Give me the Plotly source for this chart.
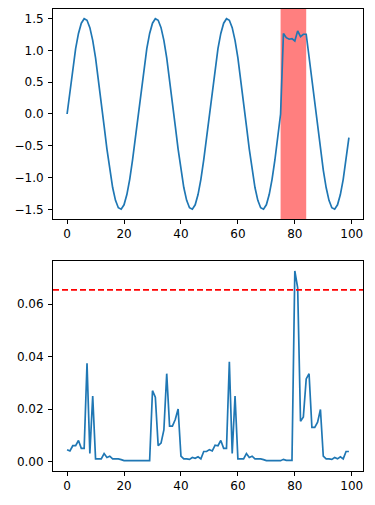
import plotly.graph_objects as go
from plotly.subplots import make_subplots

# time index
x_idx = list(range(100))

# signal with an injected anomaly (x = 76..84)
signal = [
    0.000, 0.373, 0.723, 1.027, 1.266, 1.427, 1.497, 1.473, 1.357, 1.156,
    0.882, 0.552, 0.188, -0.188, -0.552, -0.882, -1.156, -1.357, -1.473, -1.497,
    -1.427, -1.266, -1.027, -0.723, -0.373, 0.000, 0.373, 0.723, 1.027, 1.266,
    1.427, 1.497, 1.473, 1.357, 1.156, 0.882, 0.552, 0.188, -0.188, -0.552,
    -0.882, -1.156, -1.357, -1.473, -1.497, -1.427, -1.266, -1.027, -0.723, -0.373,
    0.000, 0.373, 0.723, 1.027, 1.266, 1.427, 1.497, 1.473, 1.357, 1.156,
    0.882, 0.552, 0.188, -0.188, -0.552, -0.882, -1.156, -1.357, -1.473, -1.497,
    -1.427, -1.266, -1.027, -0.723, -0.373, 0.000, 1.264, 1.200, 1.175, 1.185,
    1.148, 1.306, 1.216, 1.253, 1.253, 0.882, 0.552, 0.188, -0.188, -0.552,
    -0.882, -1.156, -1.357, -1.473, -1.497, -1.427, -1.266, -1.027, -0.723, -0.373,
]

# anomaly score
score = [
    0.0045, 0.0040, 0.0060, 0.0060, 0.0080, 0.0050, 0.0050, 0.0375, 0.0030, 0.0250,
    0.0010, 0.0010, 0.0010, 0.0030, 0.0015, 0.0020, 0.0010, 0.0010, 0.0010, 0.0007,
    0.0003, 0.0003, 0.0003, 0.0003, 0.0003, 0.0003, 0.0004, 0.0003, 0.0003, 0.0003,
    0.0270, 0.0245, 0.0060, 0.0070, 0.0120, 0.0335, 0.0135, 0.0135, 0.0160, 0.0200,
    0.0020, 0.0010, 0.0010, 0.0008, 0.0015, 0.0012, 0.0018, 0.0010, 0.0038, 0.0038,
    0.0045, 0.0040, 0.0062, 0.0060, 0.0080, 0.0050, 0.0050, 0.0380, 0.0030, 0.0250,
    0.0010, 0.0010, 0.0010, 0.0030, 0.0015, 0.0020, 0.0010, 0.0010, 0.0010, 0.0007,
    0.0003, 0.0003, 0.0003, 0.0003, 0.0003, 0.0003, 0.0008, 0.0004, 0.0004, 0.0004,
    0.0727, 0.0663, 0.0153, 0.0170, 0.0315, 0.0335, 0.0130, 0.0130, 0.0150, 0.0198,
    0.0020, 0.0010, 0.0010, 0.0008, 0.0015, 0.0010, 0.0018, 0.0010, 0.0038, 0.0038,
]

span_start, span_end = 75, 84
threshold = 0.0655

x_ticks = [0, 20, 40, 60, 80, 100]
top_ticks = [-1.5, -1.0, -0.5, 0.0, 0.5, 1.0, 1.5]
bottom_ticks = [0.0, 0.02, 0.04, 0.06]

BLUE = "#1f77b4"

fig = make_subplots(rows=2, cols=1, vertical_spacing=0.091)

fig.add_trace(go.Scatter(x=x_idx, y=signal, mode="lines",
                         line=dict(color=BLUE, width=1.7)), row=1, col=1)
fig.add_trace(go.Scatter(x=x_idx, y=score, mode="lines",
                         line=dict(color=BLUE, width=1.7)), row=2, col=1)

fig.add_shape(type="rect", xref="x", yref="y domain", x0=span_start, x1=span_end,
              y0=0, y1=1, fillcolor="rgba(255,0,0,0.5)", line_width=0, layer="below")
fig.add_shape(type="line", xref="x2 domain", yref="y2", x0=0, x1=1,
              y0=threshold, y1=threshold,
              line=dict(color="red", width=1.7, dash="6px,3px"))

axis_style = dict(showline=True, linecolor="black", linewidth=1, mirror=True,
                  ticks="outside", ticklen=4, tickcolor="black", showgrid=False,
                  zeroline=False, tickfont=dict(size=12, color="black"))

fig.update_xaxes(range=[-4.95, 103.95], tickvals=x_ticks, **axis_style)
fig.update_yaxes(range=[-1.65, 1.65], tickvals=top_ticks, tickformat=".1f",
                 ticklabelstandoff=2, row=1, col=1, **axis_style)
fig.update_yaxes(range=[-0.00365, 0.0765], tickvals=bottom_ticks, tickformat=".2f",
                 ticklabelstandoff=2, row=2, col=1, **axis_style)

fig.update_layout(
    width=375, height=505,
    margin=dict(l=53, r=12, t=9, b=34),
    showlegend=False,
    plot_bgcolor="white", paper_bgcolor="white",
    font=dict(family="DejaVu Sans", size=12, color="black"),
)

# drop the browser's default body margin so the figure sits at the page corner
fig.write_html("out.html", config={"displayModeBar": False},
               post_script="document.body.style.margin='0';")
